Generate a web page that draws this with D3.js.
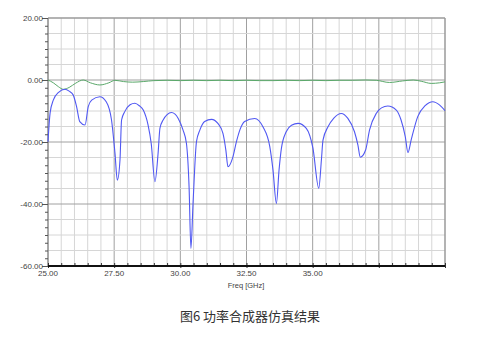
<!DOCTYPE html>
<html><head><meta charset="utf-8">
<script src="https://cdn.jsdelivr.net/npm/d3@7"></script>
<style>body{margin:0;background:#fff}svg{display:block}</style>
</head><body>
<script>
// Frequency (GHz) and return loss (dB) for the blue trace
const blueFreq = [25.0,25.08,25.2,25.4,25.64,25.8,25.95,26.08,26.2,26.4,26.52,26.65,26.96,27.2,27.4,27.53,27.62,27.72,27.78,27.9,28.1,28.28,28.45,28.6,28.78,28.9,29.04,29.16,29.23,29.35,29.5,29.66,29.8,29.92,30.1,30.23,30.33,30.4,30.48,30.61,30.74,30.92,31.18,31.42,31.61,31.72,31.8,31.97,32.12,32.25,32.43,32.81,33.12,33.38,33.5,33.63,33.73,33.82,34.0,34.2,34.45,34.76,35.01,35.23,35.33,35.39,35.58,35.8,36.08,36.33,36.58,36.71,36.8,37.0,37.15,37.4,37.6,37.84,38.16,38.34,38.5,38.6,38.72,38.97,39.25,39.54,39.8,40.0];
const blueDb   = [-19.9,-10.6,-6.5,-4.0,-3.0,-3.6,-4.8,-8.6,-13.4,-14.5,-8.6,-6.5,-5.4,-7.0,-12.9,-23.6,-32.3,-25.8,-12.9,-10.2,-8.0,-7.5,-8.3,-9.7,-14.5,-20.5,-32.8,-23.6,-15.5,-12.9,-11.2,-10.5,-11.0,-12.4,-16.1,-20.4,-34.4,-54.3,-39.8,-19.9,-16.1,-13.4,-12.7,-14.0,-17.2,-22.6,-28.0,-25.3,-19.9,-16.1,-13.4,-12.4,-15.1,-21.5,-29.0,-39.8,-29.0,-22.0,-16.7,-14.6,-14.0,-15.6,-22.0,-34.9,-25.8,-19.4,-15.1,-12.3,-10.8,-12.4,-16.7,-21.0,-24.9,-22.6,-16.1,-10.8,-9.0,-8.4,-9.7,-12.9,-18.3,-23.4,-19.4,-11.8,-8.3,-7.0,-8.1,-9.9];
// Green trace
const greenFreq = [25.0,25.2,25.4,25.58,25.8,26.05,26.33,26.6,26.96,27.3,27.53,27.85,28.2,28.6,29.0,29.5,30.0,30.5,31.0,31.5,32.0,32.5,33.0,33.5,34.0,34.5,35.0,35.5,36.0,36.5,37.0,37.4,37.9,38.4,38.8,39.1,39.48,39.8,40.0];
const greenDb   = [0.0,-0.9,-2.2,-3.0,-2.4,-1.0,0.0,-0.9,-1.6,-0.9,-0.1,-0.5,-0.7,-0.5,-0.2,-0.1,-0.2,-0.1,-0.2,-0.1,-0.2,-0.1,-0.2,-0.2,-0.1,-0.2,-0.1,-0.2,-0.1,-0.1,0.0,-0.1,-0.8,-0.3,0.0,-0.4,-1.1,-0.9,-0.6];
const xTickLabels = ["25.00","27.50","30.00","32.50","35.00"];
const yTickLabels = ["20.00","0.00","-20.00","-40.00","-60.00"];
const xLabel = "Freq [GHz]";
const caption = "图6 功率合成器仿真结果";

const W = 491, H = 337;
const m = {l:48, r:46, t:18, b:71};
const svg = d3.select("body").append("svg").attr("width",W).attr("height",H);
const x = d3.scaleLinear().domain([25,40]).range([m.l, W-m.r]);
const y = d3.scaleLinear().domain([-60,20]).range([H-m.b, m.t]);
const g = svg.append("g");

// grid
const xs = d3.range(25.5, 40, 0.5);
g.selectAll(".vg").data(xs).enter().append("line")
  .attr("x1",d=>x(d)).attr("x2",d=>x(d)).attr("y1",y(20)).attr("y2",y(-60))
  .attr("stroke",d=>Math.abs(d/2.5-Math.round(d/2.5))<1e-6?"#a0a0a0":"#d6d6d6").attr("stroke-width",1);
const ys = d3.range(-55, 20, 5);
g.selectAll(".hg").data(ys).enter().append("line")
  .attr("x1",x(25)).attr("x2",x(40)).attr("y1",d=>y(d)).attr("y2",d=>y(d))
  .attr("stroke",d=>d%20===0?"#a0a0a0":"#d6d6d6").attr("stroke-width",1);
// frame
g.append("line").attr("x1",x(25)).attr("x2",x(40)).attr("y1",y(20)).attr("y2",y(20)).attr("stroke","#9a9a9a").attr("stroke-width",1.5);
g.append("line").attr("x1",x(40)).attr("x2",x(40)).attr("y1",y(20)).attr("y2",y(-60)).attr("stroke","#9a9a9a").attr("stroke-width",1.5);
g.append("line").attr("x1",x(25)).attr("x2",x(25)).attr("y1",y(20)).attr("y2",y(-60)).attr("stroke","#8a8a8a").attr("stroke-width",1.5);

// y axis
const yAxis = d3.axisLeft(y).tickValues(d3.range(-60,20.1,2.5)).tickSize(0).tickFormat("");
const ya = svg.append("g").attr("transform",`translate(${x(25)},0)`).call(yAxis);
ya.select(".domain").remove();
ya.selectAll(".tick line").attr("x2",d=>d%20===0?-6:-3).attr("stroke","#555");
const yl = [20,0,-20,-40,-60];
svg.selectAll(".yl").data(yl).enter().append("text")
  .attr("x",x(25)-5).attr("y",d=>y(d)+3).attr("text-anchor","end")
  .attr("font-family","Liberation Sans, Arial, sans-serif").attr("font-size",8).attr("fill","#444")
  .text((d,i)=>yTickLabels[i]);

// x axis
const xAxis = d3.axisBottom(x).tickValues(d3.range(25,40.01,0.5)).tickSize(0).tickFormat("");
const xa = svg.append("g").attr("transform",`translate(0,${y(-60)})`).call(xAxis);
xa.select(".domain").remove();
xa.selectAll(".tick line").attr("y1",-3).attr("y2",d=>Math.abs(d/2.5-Math.round(d/2.5))<1e-6?2:0).attr("stroke","#333");
svg.append("line").attr("x1",x(25)).attr("x2",x(40)).attr("y1",y(-60)).attr("y2",y(-60)).attr("stroke","#111").attr("stroke-width",2);
svg.selectAll(".xl").data([25,27.5,30,32.5,35]).enter().append("text")
  .attr("x",d=>x(d)).attr("y",y(-60)+10).attr("text-anchor","middle")
  .attr("font-family","Liberation Sans, Arial, sans-serif").attr("font-size",8).attr("fill","#444")
  .text((d,i)=>xTickLabels[i]);
svg.append("text").attr("x",246).attr("y",288).attr("text-anchor","middle")
  .attr("font-family","Liberation Sans, Arial, sans-serif").attr("font-size",7.5).attr("fill","#444").text(xLabel);

// curves
const line = d3.line().x(d=>x(d[0])).y(d=>y(d[1])).curve(d3.curveMonotoneX);
svg.append("path").datum(greenFreq.map((f,i)=>[f,greenDb[i]])).attr("d",line)
  .attr("fill","none").attr("stroke","#5aa86a").attr("stroke-width",1);
svg.append("path").datum(blueFreq.map((f,i)=>[f,blueDb[i]])).attr("d",line)
  .attr("fill","none").attr("stroke","#5058f2").attr("stroke-width",1.1);

// caption
svg.append("text").attr("x",250).attr("y",321).attr("text-anchor","middle")
  .attr("font-family","Noto Sans CJK SC, sans-serif").attr("font-size",13).attr("fill","#333").text(caption);
</script>
</body></html>
